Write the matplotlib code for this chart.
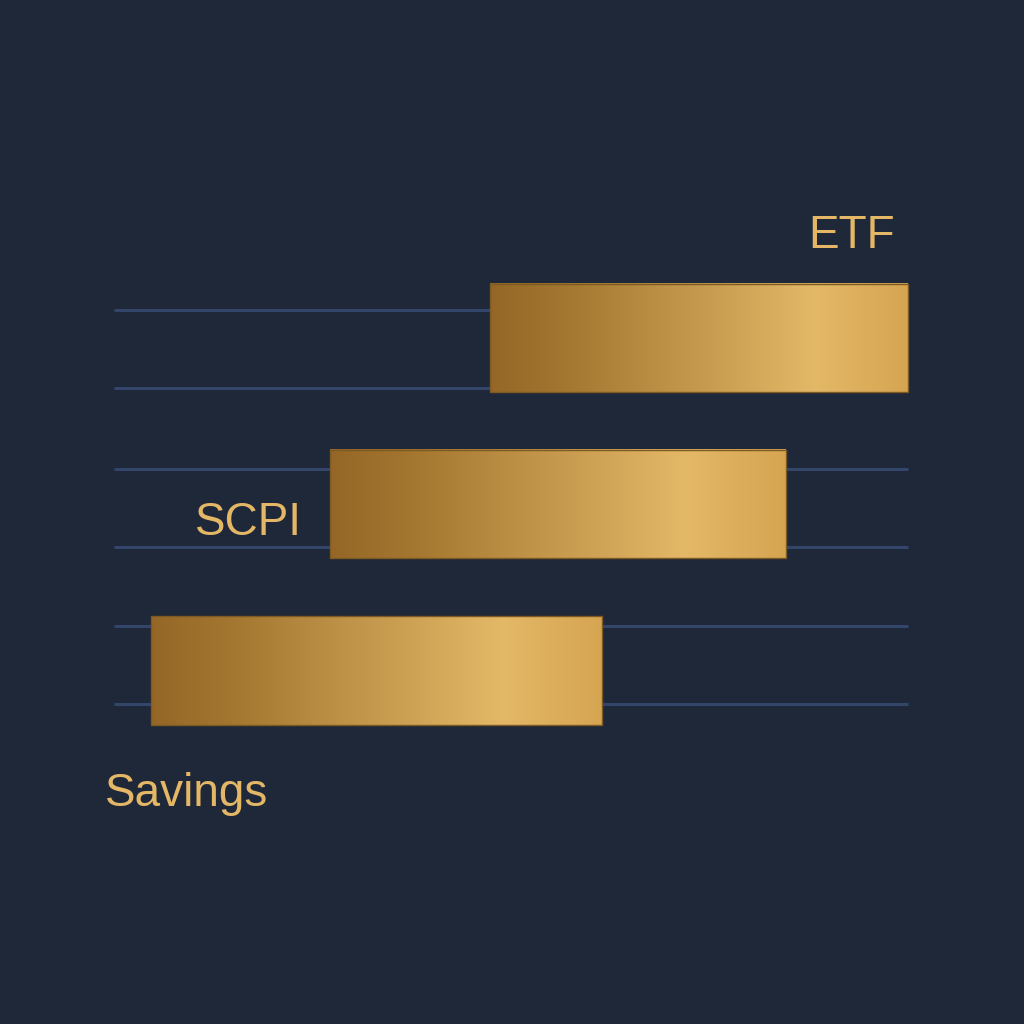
import matplotlib.pyplot as plt
import numpy as np
from matplotlib.colors import LinearSegmentedColormap

# floating bars: start / end on a 0-100 scale
CATEGORIES = ["Savings", "SCPI", "ETF"]
STARTS = [4.7, 27.2, 47.4]
ENDS = [61.5, 84.6, 100.0]

# label anchors (x, y baseline) and alignment
LABEL_POS = {"Savings": (-1.2, -0.815, "left"),
             "SCPI": (10.2, 0.815, "left"),
             "ETF": (98.4, 2.54, "right")}

# faint guide lines
GUIDE_Y = [2.168, 1.699, 1.212, 0.743, 0.268, -0.2015]
GUIDE_X = (0, 100)

BG = "#1f2839"
LINE_COLOR = "#33466a"
TEXT_COLOR = "#e4b766"
BAR_H = 0.65

gold = LinearSegmentedColormap.from_list(
    "gold",
    [(0.0, "#946727"), (0.2, "#a57931"), (0.5, "#c69a4e"),
     (0.78, "#e3b867"), (1.0, "#d6a552")],
)


def main():
    fig = plt.figure(figsize=(10.24, 10.24), dpi=100, facecolor=BG)
    ax = fig.add_axes([0, 0, 1, 1])
    ax.set_facecolor(BG)
    ax.axis("off")

    for y in GUIDE_Y:
        ax.plot(GUIDE_X, [y, y], color=LINE_COLOR, lw=2.2, zorder=1,
                solid_capstyle="butt")

    grad = np.linspace(0, 1, 256).reshape(1, -1)
    for i, (cat, s, e) in enumerate(zip(CATEGORIES, STARTS, ENDS)):
        ax.imshow(grad, cmap=gold, aspect="auto", zorder=2,
                  extent=(s, e, i - BAR_H / 2, i + BAR_H / 2),
                  interpolation="bicubic")
        ax.add_patch(plt.Rectangle((s, i - BAR_H / 2), e - s, BAR_H,
                                   fill=False, edgecolor="#7d5a24", lw=1.0,
                                   zorder=3))
        x, y, ha = LABEL_POS[cat]
        ax.text(x, y, cat, color=TEXT_COLOR, fontsize=33, ha=ha,
                va="baseline", family=["Liberation Sans", "DejaVu Sans"])

    ax.set_xlim(-14.36, 114.6)
    ax.set_ylim(-2.126, 4.033)
    fig.savefig("out.png", dpi=100, facecolor=BG)
    plt.close(fig)


if __name__ == "__main__":
    main()
